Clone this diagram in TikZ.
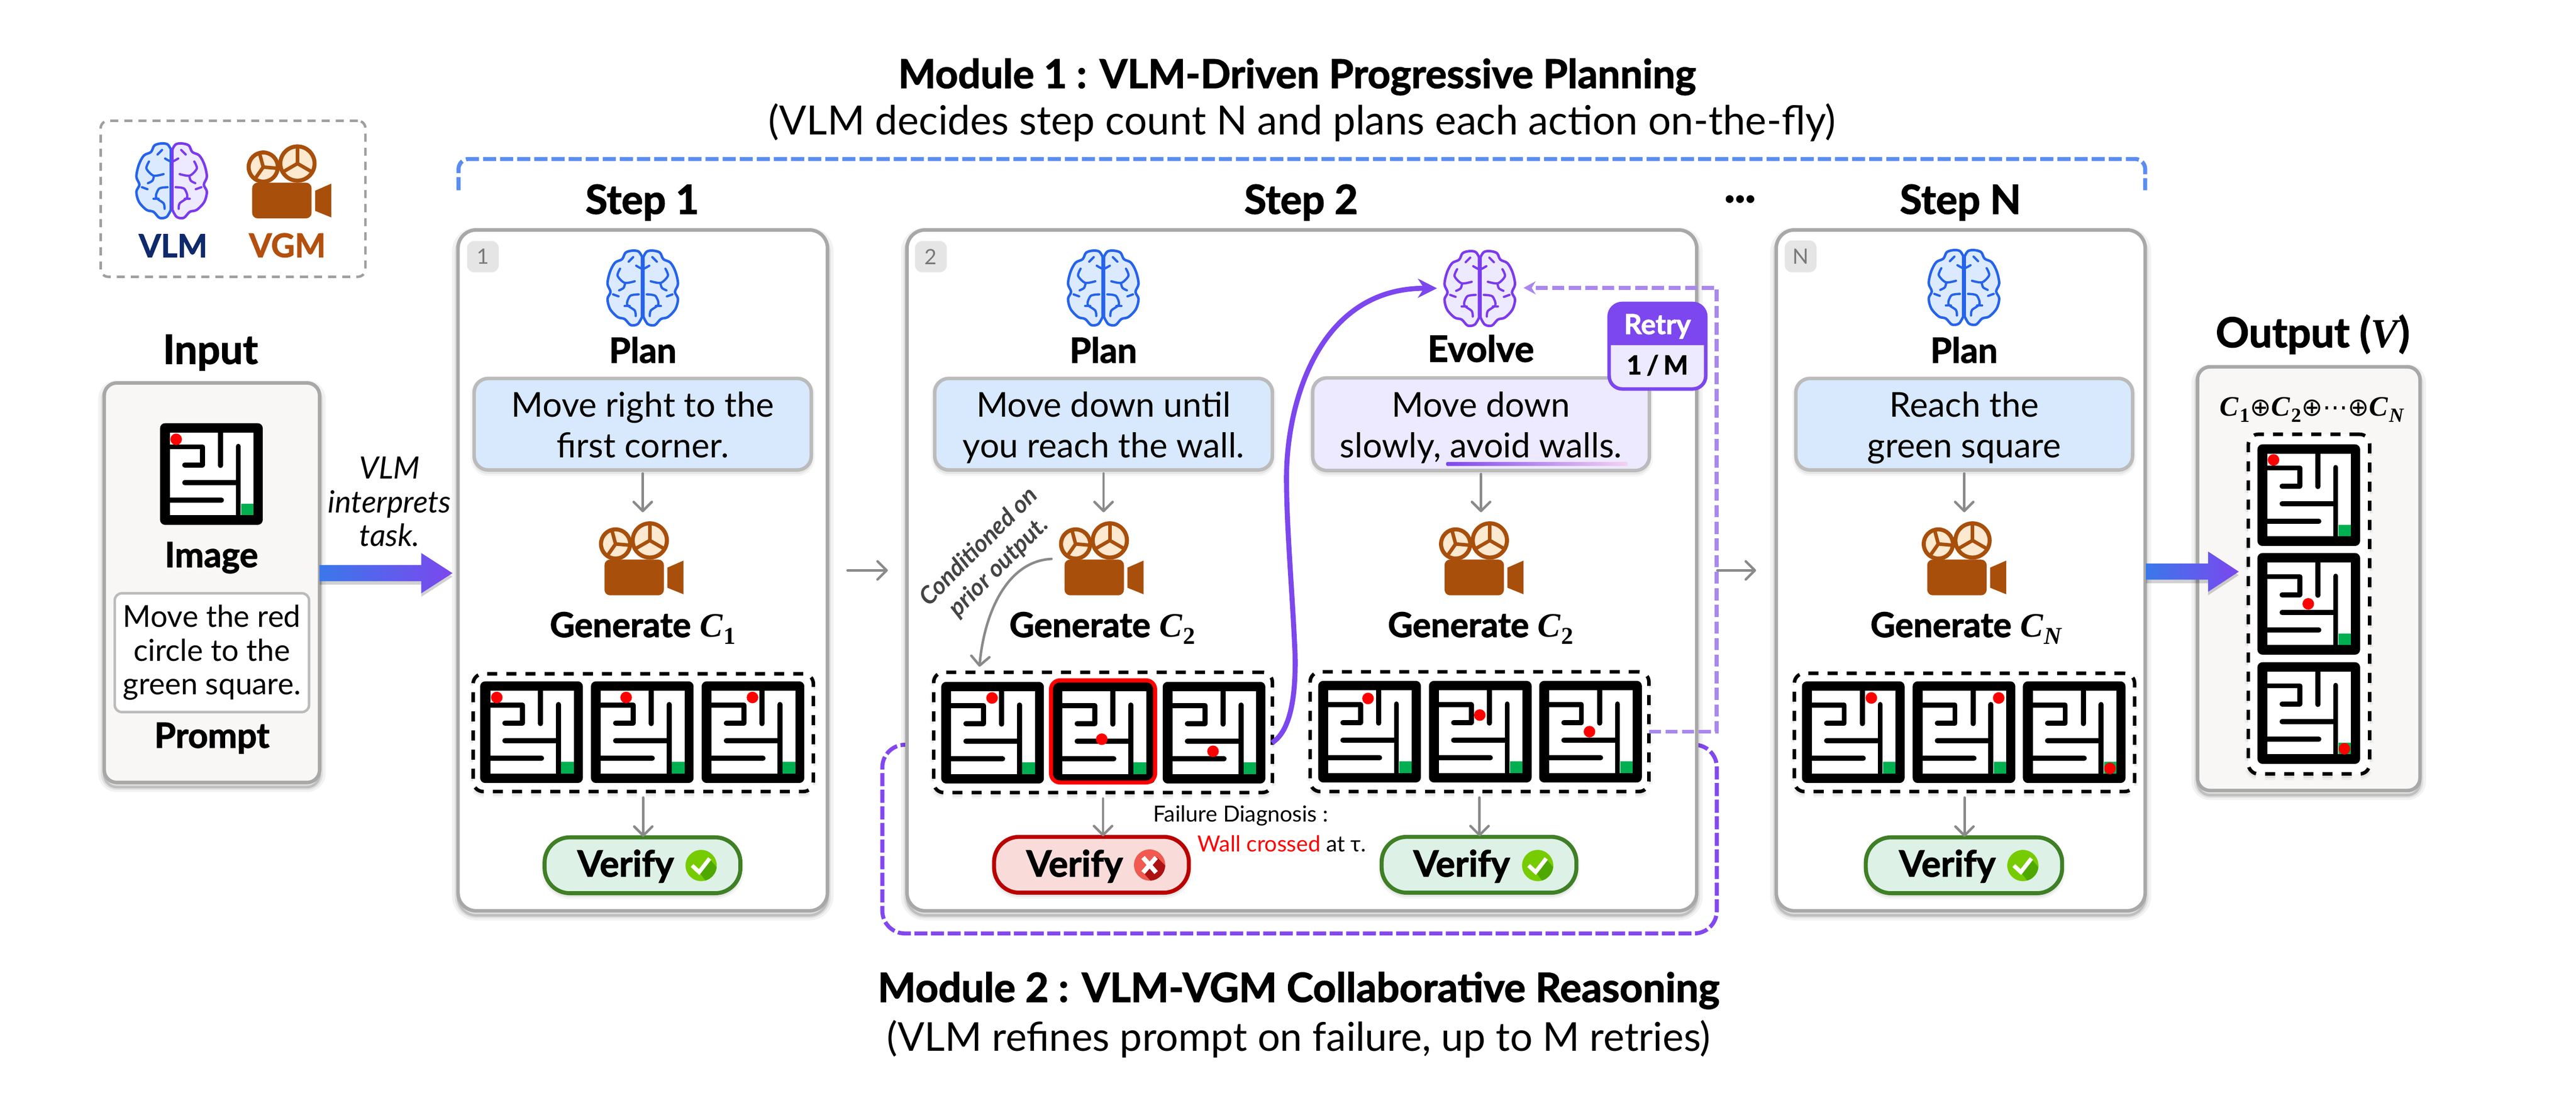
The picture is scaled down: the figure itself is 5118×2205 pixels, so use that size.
\documentclass[tikz,border=0pt]{standalone}
\usepackage{fontspec}
\usetikzlibrary{arrows.meta,calc}
\setmainfont{Lato}
\newfontfamily\hv{Lato}[BoldFeatures={FakeBold=1.8}]
\newfontfamily\mf{Liberation Serif}
\newfontfamily\djv{DejaVu Sans}
\newcommand\fs[2]{\fontsize{#1}{#2}\selectfont}
\newcommand\hb{\hv\bfseries}
\newcommand\Cr[1]{{\mf\bfseries\itshape C\kern2pt\raisebox{-.2em}{\fs{48}{48}#1}}}
\newcommand\Cb[1]{{\mf\bfseries\itshape C\kern3pt\raisebox{-.22em}{\fs{40}{40}#1}}}
\newcommand\tl[2]{\rule{0pt}{70pt}#1\\#2\rule[-18pt]{0pt}{18pt}}
\definecolor{bluebr}{HTML}{2563EB}
\definecolor{bluefl}{HTML}{DBEAFE}
\definecolor{purbr}{HTML}{7C3AED}
\definecolor{purfl}{HTML}{EDE9FE}
\definecolor{brownc}{HTML}{A84F0B}
\definecolor{creamc}{HTML}{FDE8D0}
\definecolor{boxln}{HTML}{A8A8A8}
\definecolor{tbln}{HTML}{BBBBBB}
\definecolor{tbblue}{HTML}{D8E8FD}
\definecolor{inpfl}{HTML}{F8F7F5}
\definecolor{grayar}{HTML}{8A8A8A}
\definecolor{pline}{HTML}{8347F0}
\definecolor{plight}{HTML}{A987EE}
\definecolor{blued}{HTML}{5B8DEF}
\definecolor{gfill}{HTML}{DDF1E6}
\definecolor{gline}{HTML}{3F7F25}
\definecolor{rfill}{HTML}{F9DCDA}
\definecolor{rline}{HTML}{B90000}
\definecolor{mgreen}{HTML}{00B050}
\definecolor{navyv}{HTML}{0F2A6B}
\definecolor{vgmt}{HTML}{B4500F}
\definecolor{arrL}{HTML}{3B78EA}
\definecolor{arrR}{HTML}{7C47EE}
\tikzset{
 softsh/.style={preaction={draw=black,draw opacity=.05,line width=24pt,transform canvas={yshift=-7pt}},
   preaction={draw=black,draw opacity=.08,line width=13pt,transform canvas={yshift=-8pt}},
   preaction={draw=black,draw opacity=.14,line width=5pt,transform canvas={yshift=-9pt}}},
 faintsh/.style={preaction={draw=black,draw opacity=.04,line width=14pt,transform canvas={yshift=-5pt}},
   preaction={draw=black,draw opacity=.06,line width=6pt,transform canvas={yshift=-5pt}}},
 stepbox/.style={draw=boxln,fill=white,line width=7pt,rounded corners=36pt,softsh},
 inbox/.style={draw=boxln,fill=inpfl,line width=7pt,rounded corners=25pt,softsh},
 txtbox/.style={draw=tbln,fill=tbblue,line width=7pt,rounded corners=28pt,align=center,font=\fs{68}{80},faintsh},
 evobox/.style={txtbox,fill=purfl},
 promptbox/.style={draw=tbln,fill=white,line width=5pt,rounded corners=14pt,align=center,font=\fs{60}{67}},
 dashbox/.style={draw=black,fill=white,line width=7pt,dash pattern=on 20pt off 18pt,rounded corners=20pt,faintsh},
 numbadge/.style={fill=gray!20,text=gray!95!black,rounded corners=14pt,font=\fs{42}{42}},
 grayarr/.style={draw=grayar,line width=5pt,line cap=round,-{Straight Barb[length=18pt,width=36pt,line width=5pt,round]}},
 lbl/.style={anchor=base,inner sep=0pt,font=\fs{69}{75}\hb},
 head/.style={anchor=base,inner sep=0pt,font=\fs{80}{85}\hb},
 gentxt/.style={anchor=base,inner sep=0pt,font=\fs{68}{75}},
 vertxt/.style={anchor=base,inner sep=0pt,font=\fs{72}{75}\hb},
 okpill/.style={draw=gline,fill=gfill,line width=8pt,rounded corners=50pt,faintsh},
 badpill/.style={draw=rline,fill=rfill,line width=8pt,rounded corners=50pt,faintsh},
 plain/.style={inner sep=0pt,outer sep=0pt},
}
\newcommand\boxat[7]{\pgfmathsetmacro\bcx{(#3+#5)/2}\pgfmathsetmacro\bcy{(#4+#6)/2}\pgfmathsetmacro\bw{#5-#3}\pgfmathsetmacro\bh{#6-#4}%
 \node[#1,minimum width=\bw pt,minimum height=\bh pt,inner sep=0pt,outer sep=0pt] (#2) at (\bcx,\bcy) {#7};}
% maze: name, left, top, dot x, dot y
\newcommand\mazeat[5]{%
 \pgfmathsetmacro\mcx{#2+102}\pgfmathsetmacro\mcy{#3+101}%
 \node[plain,fill=black,rounded corners=10pt,minimum width=204pt,minimum height=202pt] (#1) at (\mcx,\mcy) {};
 \begin{scope}[shift={(#2,#3)}]
  \fill[white] (20,19) rectangle (186,183);
  \fill[mgreen] (161,160) rectangle (186,183);
  \draw[black,line width=10pt,line cap=round,line join=round] (16,47) -- (84,47) -- (84,83) -- (49,83);
  \draw[black,line width=10pt,line cap=round] (120,17) -- (120,84);
  \draw[black,line width=10pt,line cap=round] (155.5,185) -- (155.5,46);
  \draw[black,line width=10pt,line cap=round] (155,118) -- (49,118);
  \draw[black,line width=10pt,line cap=round] (16,153) -- (122,153);
  \fill[red] (#4,#5) circle[radius=11.5];
 \end{scope}}
\newcommand\brainhalf[3]{%
 \begin{scope}[xscale=#1]
 \filldraw[draw=#2,fill=#3,line width=5pt,line join=round]
   plot[smooth,tension=.55] coordinates {(1.5,-62) (8,-72) (20,-74) (34,-70) (41,-57) (55,-50) (65,-32) (70,-8) (64,8) (70,22) (65,42) (50,58) (36,62) (24,74) (10,72) (1.5,58)} -- cycle;
 \draw[#2,line width=4.5pt,line cap=round]
   plot[smooth] coordinates {(16,-13) (36,-10) (50,-24) (45,-38)}
   plot[smooth] coordinates {(35,-10) (38,0) (47,5)}
   plot[smooth] coordinates {(19,-61) (28,-52)}
   plot[smooth] coordinates {(2,-38) (8,-41) (13,-44)}
   plot[smooth] coordinates {(8,13) (25,16) (31,33) (16,45) (14,56)}
   plot[smooth] coordinates {(48,17) (59,13)}
   plot[smooth] coordinates {(26,36) (36,36)};
 \end{scope}}
% brain: name, cx, cy, left stroke, left fill, right stroke, right fill
\newcommand\brainat[7]{%
 \node[plain,minimum width=140pt,minimum height=150pt] (#1) at (#2,#3) {};
 \begin{scope}[shift={(#2,#3)}]
  \brainhalf{-1}{#4}{#5}\brainhalf{1}{#6}{#7}
 \end{scope}}
\newcommand\wheelat[4]{% cx cy r spoke angles
 \filldraw[draw=brownc,fill=creamc,line width=8pt] (#1,#2) circle[radius=#3];
 \foreach \an in {#4} {\draw[brownc,line width=7pt] (#1,#2) -- +(\an:#3);}
}
% camera: name, left, top
\newcommand\camat[3]{%
 \pgfmathsetmacro\ccx{#2+84}\pgfmathsetmacro\ccy{#3+73}%
 \node[plain,minimum width=168pt,minimum height=146pt] (#1) at (\ccx,\ccy) {};
 \begin{scope}[shift={(#2,#3)}]
  \wheelat{33}{44}{29}{-105,5,125}
  \wheelat{101}{37}{34}{-90,30,150}
  \fill[brownc,rounded corners=11pt] (11,75) rectangle (129,146);
  \fill[brownc] (136,91) -- (168,77) -- (168,144) -- (136,131) -- cycle;
 \end{scope}}
\newcommand\okicon[3]{%
 \node[plain,circle,minimum size=62pt] (#1) at (#2,#3) {};
 \begin{scope}[shift={(#2,#3)}]
  \fill[fill={rgb,255:red,118;green,204;blue,0}] (0,0) circle[radius=31];
  \begin{scope}\clip (0,0) circle[radius=31];
   \fill[fill={rgb,255:red,78;green,168;blue,0}] (-4,13) -- (17,-13) -- (45,20) -- (20,45) -- cycle;
  \end{scope}
  \draw[white,line width=8pt] (-18,0) -- (-4,13) -- (17,-14);
 \end{scope}}
\newcommand\failicon[3]{%
 \node[plain,circle,minimum size=62pt] (#1) at (#2,#3) {};
 \begin{scope}[shift={(#2,#3)}]
  \fill[fill={rgb,255:red,240;green,90;blue,80}] (0,0) circle[radius=31];
  \begin{scope}\clip (0,0) circle[radius=31];
   \fill[fill={rgb,255:red,173;green,18;blue,18}] (14,-16) -- (45,15) -- (15,45) -- (-14,14) -- cycle;
  \end{scope}
  \draw[white,line width=9pt] (-13,-15) -- (13,15) (13,-15) -- (-13,15);
 \end{scope}}
\newcommand\bigarrow[5]{% start coord, tip coord, head length, half body, half head
 \fill[black,opacity=.18,transform canvas={yshift=-7pt}] ($(#1)+(0,-#4)$) -- ($(#2)+(-#3,-#4)$) -- ($(#2)+(-#3,-#5)$) -- (#2) -- ($(#2)+(-#3,#5)$) -- ($(#2)+(-#3,#4)$) -- ($(#1)+(0,#4)$) -- cycle;
 \shade[left color=arrL,right color=arrR] ($(#1)+(0,-#4)$) -- ($(#2)+(-#3,-#4)$) -- ($(#2)+(-#3,-#5)$) -- (#2) -- ($(#2)+(-#3,#5)$) -- ($(#2)+(-#3,#4)$) -- ($(#1)+(0,#4)$) -- cycle;}
\begin{document}
\begin{tikzpicture}[x=1pt,y=-1pt]
\useasboundingbox (0,0) rectangle (5118,2205);
\fill[white] (0,0) rectangle (5118,2205);
% titles
\node[anchor=base,inner sep=0pt,font=\fs{79}{85}\hb] (t1) at (2577,175) {Module 1 : VLM-Driven Progressive Planning};
\node[anchor=base,inner sep=0pt,font=\fs{80}{85}] (t1b) at (2587,268) {(VLM decides step count N and plans each action on-the-fly)};
\node[anchor=base,inner sep=0pt,font=\fs{80}{85}\hb] (t2) at (2580,1991) {Module 2 : VLM-VGM Collaborative Reasoning};
\node[anchor=base,inner sep=0pt,font=\fs{79}{85}] (t2b) at (2580,2089) {(VLM refines prompt on failure, up to M retries)};
% legend
\boxat{draw=gray!75,line width=5pt,dash pattern=on 16pt off 12pt,rounded corners=15pt}{legend}{200}{240}{726}{550}{}
\brainat{lvlm}{341}{359}{bluebr}{bluefl}{purbr}{purfl}
\camat{lvgm}{490}{288}
\node[lbl,font=\fs{63}{70}\hb,text=navyv] (lvlmt) at (344,511) {VLM};
\node[lbl,font=\fs{65}{70}\hb,text=vgmt] (lvgmt) at (571,511) {VGM};
% bracket
\coordinate (brL) at (911,378); \coordinate (brLc) at (911,316);
\coordinate (brRc) at (4262,316); \coordinate (brR) at (4262,378);
\draw[blued,line width=8pt,dash pattern=on 26pt off 8pt,rounded corners=20pt] (brL) -- (brLc) -- (brRc) -- (brR);
% module 2 frame
\boxat{draw=pline,line width=8pt,dash pattern=on 26pt off 7pt,rounded corners=45pt}{frame}{1753}{1480}{3411}{1855}{}
% input
\node[head] (inl) at (418,723) {Input};
\boxat{inbox}{input}{207}{761}{635}{1555}{}
\mazeat{minp}{318}{841}{32}{32}
\node[lbl] (iml) at (420,1127) {Image};
\boxat{promptbox}{prompt}{228}{1179}{614}{1415}{Move the red\\circle to the\\green square.}
\node[lbl] (pml) at (421,1486) {Prompt};
\node[font=\fs{61}{67}\itshape,align=center,inner sep=0pt] (interp) at (774,997) {VLM\\interprets\\task.};
% step 1
\node[head] (s1l) at (1276,425) {Step 1};
\boxat{stepbox}{step1}{910}{457}{1644}{1810}{}
\boxat{numbadge}{b1}{928}{479}{991}{541}{1}
\brainat{br1}{1277}{572}{bluebr}{bluefl}{bluebr}{bluefl}
\node[lbl] (pl1) at (1277,721) {Plan};
\boxat{txtbox}{tb1}{942}{752}{1612}{934}{\tl{Move right to the}{first corner.}}
\camat{cam1}{1190}{1037}
\node[gentxt] (g1) at (1277,1266) {{\hb Generate} \Cr{\upshape 1}};
\boxat{dashbox}{d1}{940}{1339}{1616}{1573}{}
\mazeat{m11}{954}{1354}{33}{32}
\mazeat{m12}{1174}{1354}{70}{32}
\mazeat{m13}{1394}{1354}{101}{32}
\boxat{okpill}{v1}{1082}{1664}{1471}{1775}{}
\node[vertxt] (vt1) at (1243,1742) {Verify};
\okicon{vi1}{1393}{1720}
% step 2
\node[head] (s2l) at (2585,425) {Step 2};
\boxat{stepbox}{step2}{1802}{457}{3371}{1810}{}
\boxat{numbadge}{b2}{1818}{479}{1881}{541}{2}
\brainat{br2}{2192}{572}{bluebr}{bluefl}{bluebr}{bluefl}
\node[lbl] (pl2) at (2192,721) {Plan};
\boxat{txtbox}{tb2}{1857}{752}{2528}{934}{\tl{Move down until}{you reach the wall.}}
\camat{cam2}{2104}{1037}
\node[gentxt] (g2) at (2190,1266) {{\hb Generate} \Cr{\upshape 2}};
\node[rotate=45,font=\fs{48}{56}\bfseries\itshape,text={rgb,255:red,68;green,68;blue,68},align=center,inner sep=0pt] (cond) at (1965,1107) {Conditioned on\\prior output.};
\boxat{dashbox}{d2}{1855}{1336}{2528}{1575}{}
\mazeat{m21}{1870}{1355}{101}{32}
\mazeat{m22}{2091}{1355}{98}{114}
\mazeat{m23}{2310}{1355}{100}{138}
\boxat{draw=red,line width=8pt,rounded corners=18pt}{m22r}{2088}{1352}{2295}{1555}{}
\boxat{badpill}{v2}{1975}{1663}{2362}{1774}{}
\node[vertxt] (vt2) at (2135,1742) {Verify};
\failicon{vi2}{2284}{1719}
\node[font=\fs{44}{50},inner sep=0pt] (fd) at (2465,1621) {Failure Diagnosis :};
\node[font=\fs{44}{50},inner sep=0pt] (wc) at (2547,1676) {\textcolor{red}{Wall crossed} at τ.};
% evolve column
\brainat{br3}{2940}{573}{purbr}{purfl}{purbr}{purfl}
\node[lbl,font=\fs{72}{75}\hb] (ev) at (2942,719) {Evolve};
\boxat{evobox}{tb3}{2608}{751}{3277}{935}{\tl{Move down}{slowly, avoid walls.}}
\shade[left color=arrR,right color={rgb,255:red,245;green,210;blue,240},rounded corners=3pt] (2873,918) rectangle (3234,926);
\camat{cam3}{2859}{1037}
\node[gentxt] (g3) at (2942,1266) {{\hb Generate} \Cr{\upshape 2}};
\boxat{dashbox}{d3}{2603}{1335}{3276}{1573}{}
\mazeat{m31}{2619}{1353}{99}{35}
\mazeat{m32}{2839}{1353}{101}{68}
\mazeat{m33}{3058}{1353}{100}{101}
\boxat{okpill}{v3}{2745}{1663}{3132}{1774}{}
\node[vertxt] (vt3) at (2904,1742) {Verify};
\okicon{vi3}{3055}{1720}
% step N
\node[head] (sNl) at (3895,425) {Step N};
\node[head,font=\fs{75}{80}\hb] (dots) at (3457,418) {···};
\boxat{stepbox}{stepN}{3529}{457}{4262}{1810}{}
\boxat{numbadge}{bN}{3546}{478}{3609}{541}{N}
\brainat{br4}{3902}{571}{bluebr}{bluefl}{bluebr}{bluefl}
\node[lbl] (pl4) at (3902,721) {Plan};
\boxat{txtbox}{tb4}{3568}{752}{4237}{934}{\tl{Reach the}{green square}}
\camat{cam4}{3818}{1037}
\node[gentxt] (g4) at (3906,1266) {{\hb Generate} \Cr{N}};
\boxat{dashbox}{d4}{3565}{1338}{4241}{1573}{}
\mazeat{m41}{3580}{1354}{138}{33}
\mazeat{m42}{3800}{1354}{171}{33}
\mazeat{m43}{4019}{1354}{173}{173}
\boxat{okpill}{v4}{3707}{1664}{4097}{1775}{}
\node[vertxt] (vt4) at (3869,1742) {Verify};
\okicon{vi4}{4019}{1720}
% output
\node[head,font=\fs{82}{85}\hb] (outl) at (4595,690) {Output ({\mf\bfseries\itshape V})};
\boxat{inbox}{output}{4366}{729}{4808}{1571}{}
\node[anchor=base,inner sep=0pt,font=\fs{56}{60}] (form) at (4593,827) {\Cb{\upshape 1}{\djv\fs{50}{50}⊕}\Cb{\upshape 2}{\djv\fs{50}{50}⊕⋯⊕}\Cb{N}};
\boxat{dashbox}{d5}{4467}{863}{4708}{1538}{}
\mazeat{m51}{4485}{883}{32}{31}
\mazeat{m52}{4485}{1099}{101}{101}
\mazeat{m53}{4485}{1316}{173}{172}
% retry badge
\boxat{draw=arrR,fill=purfl,line width=7pt,rounded corners=26pt}{retry}{3197}{603}{3389}{773}{}
\fill[arrR] (3197,686) [rounded corners=24pt] -- (3197,603) -- (3389,603) [sharp corners] -- (3389,686) -- cycle;
\node[anchor=base,inner sep=0pt,font=\fs{55}{55}\hb,text=white] (rt) at (3293,664) {Retry};
\node[anchor=base,inner sep=0pt,font=\fs{52}{55}\hb] (rn) at (3293,744) {1\kern.18em/\kern.18em M};
% connectors
\foreach \a/\b in {tb1/cam1,tb2/cam2,tb3/cam3,tb4/cam4}
 \draw[grayarr,shorten <=7pt,shorten >=19pt] (\a.south) -- (\a.south |- \b.north);
\foreach \a/\b in {d1/v1,d2/v2,d3/v3,d4/v4}
 \draw[grayarr,shorten <=12pt,shorten >=1pt] (\a.south) -- (\a.south |- \b.north);
\draw[grayarr,shorten <=40pt,shorten >=38pt] (step1.east) -- (step2.west);
\draw[grayarr,shorten <=41pt,shorten >=40pt] (step2.east) -- (stepN.west);
\coordinate (gce) at (1946,1325);
\draw[grayarr,shorten <=15pt] (cam2.west) .. controls (2000,1115) and (1955,1220) .. (gce);
\coordinate (ps) at (2527,1476);
\draw[arrR,line width=10pt,-{Stealth[length=38pt,width=38pt]},shorten >=15pt] (ps) .. controls (2562,1455) and (2575,1390) .. (2573,1300) .. controls (2568,1180) and (2556,1050) .. (2556,950) .. controls (2556,800) and (2620,572) .. (br3.west);
\coordinate (rc1) at (3411,1454); \coordinate (rc2) at (3411,572);
\draw[plight,line width=8pt,dash pattern=on 24pt off 9pt,-{Stealth[length=24pt,width=26pt]},shorten >=-1pt] (d3.east |- rc1) -- (rc1) -- (rc2) -- ($(br3.east)+(18,-1)$);
% block arrows
\coordinate (a1s) at (635,1139); \coordinate (a1e) at (899,1139);
\bigarrow{a1s}{a1e}{62}{16}{40}
\coordinate (a2s) at (4264,1136); \coordinate (a2e) at (4448,1136);
\bigarrow{a2s}{a2e}{61}{16}{40}
\end{tikzpicture}
\end{document}
